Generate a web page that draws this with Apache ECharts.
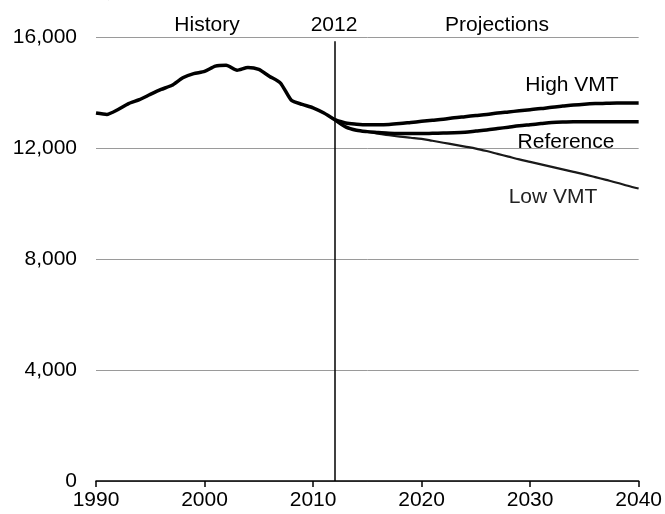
<!DOCTYPE html>
<html>
<head>
<meta charset="utf-8">
<script src="https://cdn.jsdelivr.net/npm/echarts@6/dist/echarts.min.js"></script>
<style>
html,body{margin:0;padding:0;background:#fff;}
#chart{width:665px;height:514px;}
</style>
</head>
<body>
<div id="chart"></div>
<script>
// ---- data ----
const historyYears = [1990,1991,1992,1993,1994,1995,1996,1997,1998,1999,2000,2001,2002,2003,2004,2005,2006,2007,2008,2009,2010,2011,2012];
const historyValues = [13260,13210,13380,13600,13740,13930,14110,14260,14530,14680,14760,14950,14980,14800,14900,14830,14580,14340,13720,13570,13450,13260,13020];

const projYears = [2012,2013,2014,2015,2016,2017,2018,2019,2020,2021,2022,2023,2024,2025,2026,2027,2028,2029,2030,2031,2032,2033,2034,2035,2036,2037,2038,2039,2040];
const highVMT = [13020,12900,12860,12840,12840,12850,12880,12920,12960,13000,13040,13090,13130,13170,13210,13260,13300,13340,13380,13420,13470,13510,13550,13580,13600,13610,13620,13620,13620];
const referenceCase = [13020,12760,12640,12590,12560,12530,12520,12520,12520,12530,12540,12550,12570,12610,12650,12700,12750,12800,12840,12880,12920,12940,12950,12950,12950,12950,12950,12950,12950];
const lowVMT = [13020,12760,12640,12580,12520,12460,12410,12370,12330,12260,12190,12120,12050,11980,11890,11790,11690,11590,11500,11410,11320,11230,11140,11050,10950,10850,10750,10640,10540];

const yTicks = [0, 4000, 8000, 12000, 16000];
const xTicks = [1990, 2000, 2010, 2020, 2030, 2040];
const dividerYear = 2012;
const seriesNames = ['History', 'High VMT', 'Reference', 'Low VMT'];

const pairs = (xs, ys) => xs.map((x, i) => [x, ys[i]]);
const FONT = '"Liberation Sans", Arial, sans-serif';
const FS = 21;

const chart = echarts.init(document.getElementById('chart'), null, {renderer: 'canvas'});
chart.setOption({
  animation: false,
  backgroundColor: '#fff',
  grid: {left: 96, right: 24, top: 37, bottom: 33, containLabel: false},
  xAxis: {
    type: 'value', min: xTicks[0], max: xTicks[xTicks.length - 1], interval: 10,
    axisLine: {show: true, lineStyle: {color: '#000', width: 1.5}},
    axisTick: {show: true, inside: false, length: 6, lineStyle: {color: '#000', width: 1.5}},
    axisLabel: {color: '#000', fontSize: FS, fontFamily: FONT, margin: 9, formatter: v => String(v)},
    splitLine: {show: false}
  },
  yAxis: {
    type: 'value', min: yTicks[0], max: yTicks[yTicks.length - 1], interval: 4000,
    axisLine: {show: false}, axisTick: {show: false},
    axisLabel: {color: '#000', fontSize: FS, fontFamily: FONT, margin: 19,
      formatter: v => v.toLocaleString('en-US')},
    splitLine: {show: true, lineStyle: {color: '#9a9a9a', width: 1}}
  },
  series: [
    {
      name: seriesNames[0], type: 'line', data: pairs(historyYears, historyValues),
      showSymbol: false, smooth: 0.2, lineStyle: {color: '#000', width: 3.5}, z: 5,
      markLine: {
        silent: true, symbol: 'none', label: {show: false},
        lineStyle: {color: '#000', width: 1.5, type: 'solid'},
        data: [[{coord: [dividerYear, 0]}, {coord: [dividerYear, 15850]}]]
      }
    },
    {
      name: seriesNames[1], type: 'line', data: pairs(projYears, highVMT),
      showSymbol: false, smooth: 0.3, lineStyle: {color: '#000', width: 3.5}, z: 4
    },
    {
      name: seriesNames[2], type: 'line', data: pairs(projYears, referenceCase),
      showSymbol: false, smooth: 0.3, lineStyle: {color: '#000', width: 3.5}, z: 4
    },
    {
      name: seriesNames[3], type: 'line', data: pairs(projYears, lowVMT),
      showSymbol: false, smooth: 0.3, lineStyle: {color: '#1a1a1a', width: 2.2}, z: 3
    }
  ],
  graphic: [
    {type: 'text', left: 10, top: -29, style: {text: 'per year)', font: '30px "Liberation Serif", serif', fill: '#000'}},
    {type: 'text', x: 207, y: 36, style: {text: 'History', font: FS + 'px ' + FONT, fill: '#000', align: 'center', verticalAlign: 'bottom'}},
    {type: 'text', x: 334, y: 36, style: {text: '2012', font: FS + 'px ' + FONT, fill: '#000', align: 'center', verticalAlign: 'bottom'}},
    {type: 'text', x: 497, y: 36, style: {text: 'Projections', font: FS + 'px ' + FONT, fill: '#000', align: 'center', verticalAlign: 'bottom'}},
    {type: 'text', x: 572, y: 85, style: {text: 'High VMT', font: FS + 'px ' + FONT, fill: '#000', align: 'center', verticalAlign: 'middle'}},
    {type: 'text', x: 566, y: 142, style: {text: 'Reference', font: FS + 'px ' + FONT, fill: '#000', align: 'center', verticalAlign: 'middle'}},
    {type: 'text', x: 553, y: 197, style: {text: 'Low VMT', font: FS + 'px ' + FONT, fill: '#222', align: 'center', verticalAlign: 'middle'}}
  ]
});
</script>
</body>
</html>
